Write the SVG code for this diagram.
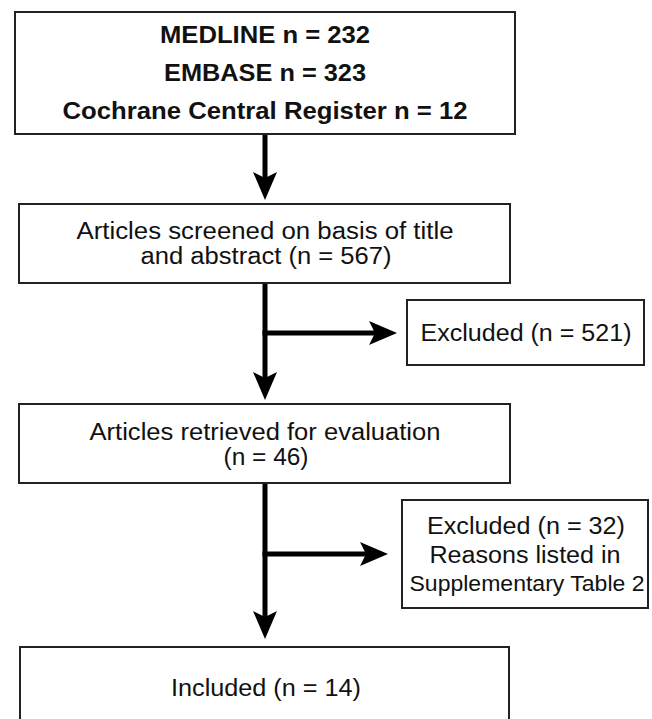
<svg xmlns="http://www.w3.org/2000/svg" width="652" height="719" viewBox="0 0 652 719">
<style>
.box{fill:#fff;stroke:#222;stroke-width:2}
.b{font-family:"Liberation Sans",Arial,sans-serif;font-weight:bold;font-size:23px;fill:#111;text-anchor:middle}
.r{font-family:"Liberation Sans",Arial,sans-serif;font-size:23px;fill:#111;text-anchor:middle}
.s{font-family:"Liberation Sans",Arial,sans-serif;font-size:21.5px;fill:#111;text-anchor:middle}
.c{stroke:#000;stroke-width:5;fill:none;marker-end:url(#ah)}
</style>
<defs>
<marker id="ah" markerUnits="userSpaceOnUse" markerWidth="28" markerHeight="24" refX="8" refY="12" orient="auto" viewBox="0 0 28 24">
<path d="M0,0 L28,12 L0,24 L6,12 Z" fill="#000"/>
</marker>
</defs>
<rect width="652" height="719" fill="#fff"/>
<g id="connectors">
<line class="c" x1="265" y1="134" x2="265" y2="180"/>
<line class="c" x1="265" y1="283" x2="265" y2="380"/>
<line class="c" x1="262.5" y1="333" x2="377" y2="333"/>
<line class="c" x1="265" y1="484" x2="265" y2="619"/>
<line class="c" x1="262.5" y1="554" x2="368" y2="554"/>
</g>
<g id="sources">
<rect class="box" x="15" y="12" width="500" height="122"/>
<text class="b" x="265" y="43" textLength="210" lengthAdjust="spacingAndGlyphs">MEDLINE n = 232</text>
<text class="b" x="265" y="81" textLength="202" lengthAdjust="spacingAndGlyphs">EMBASE n = 323</text>
<text class="b" x="265" y="119" textLength="405" lengthAdjust="spacingAndGlyphs">Cochrane Central Register n = 12</text>
</g>
<g id="screened">
<rect class="box" x="19" y="204" width="491" height="79"/>
<text class="r" x="265" y="239" textLength="377" lengthAdjust="spacingAndGlyphs">Articles screened on basis of title</text>
<text class="r" x="266" y="264" textLength="251" lengthAdjust="spacingAndGlyphs">and abstract (n = 567)</text>
</g>
<g id="excluded1">
<rect class="box" x="407" y="300" width="237" height="65"/>
<text class="r" x="526" y="341" textLength="211" lengthAdjust="spacingAndGlyphs">Excluded (n = 521)</text>
</g>
<g id="retrieved">
<rect class="box" x="19" y="404" width="491" height="79"/>
<text class="r" x="265" y="440" textLength="351" lengthAdjust="spacingAndGlyphs">Articles retrieved for evaluation</text>
<text class="r" x="266" y="465" textLength="85" lengthAdjust="spacingAndGlyphs">(n = 46)</text>
</g>
<g id="excluded2">
<rect class="box" x="402" y="500" width="246" height="108"/>
<text class="r" x="526" y="534" textLength="198" lengthAdjust="spacingAndGlyphs">Excluded (n = 32)</text>
<text class="r" x="525" y="563" textLength="191" lengthAdjust="spacingAndGlyphs">Reasons listed in</text>
<text class="s" x="527" y="591" textLength="235" lengthAdjust="spacingAndGlyphs">Supplementary Table 2</text>
</g>
<g id="included">
<rect class="box" x="20" y="647" width="489" height="76"/>
<text class="r" x="266" y="696" textLength="190" lengthAdjust="spacingAndGlyphs">Included (n = 14)</text>
</g>
</svg>
